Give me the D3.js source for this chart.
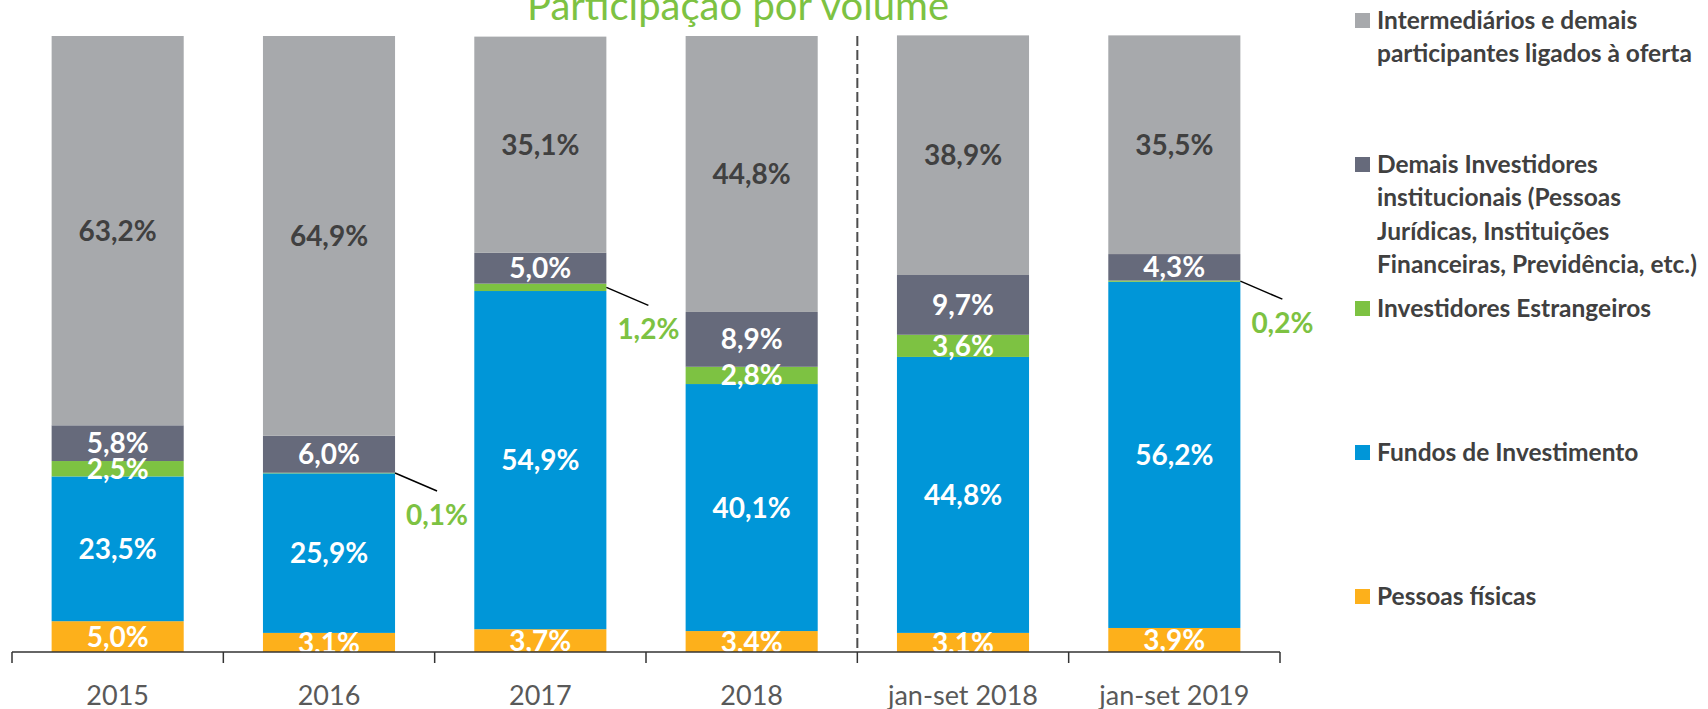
<!DOCTYPE html>
<html lang="pt">
  <head>
    <meta charset="UTF-8" />
    <title>Participação por volume</title>
    <script src="https://d3js.org/d3.v7.min.js"></script>
    <style>
      body { margin: 0; background: #fff; }
      svg { display: block; font-family: Lato, "Open Sans", sans-serif; }
    </style>
  </head>
  <body>
    <svg id="chart" width="1708" height="709"></svg>

    <script>
      const categories = ["2015", "2016", "2017", "2018", "jan-set 2018", "jan-set 2019"];
      const seriesKeys = ["fisicas", "fundos", "estrangeiros", "demais", "intermediarios"];

      const pessoasFisicas = [5.0, 3.1, 3.7, 3.4, 3.1, 3.9];
      const fundosInvestimento = [23.5, 25.9, 54.9, 40.1, 44.8, 56.2];
      const investidoresEstrangeiros = [2.5, 0.1, 1.2, 2.8, 3.6, 0.2];
      const demaisInstitucionais = [5.8, 6.0, 5.0, 8.9, 9.7, 4.3];
      const intermediarios = [63.2, 64.9, 35.1, 44.8, 38.9, 35.5];

      const legendLabels = {
        intermediarios: ["Intermediários e demais", "participantes ligados à oferta"],
        demais: ["Demais Investidores", "institucionais (Pessoas", "Jurídicas, Instituições", "Financeiras, Previdência, etc.)"],
        estrangeiros: ["Investidores Estrangeiros"],
        fundos: ["Fundos de Investimento"],
        fisicas: ["Pessoas físicas"],
      };
      const legendOrder = ["intermediarios", "demais", "estrangeiros", "fundos", "fisicas"];

      const color = {
        fisicas: "#fdb01b",
        fundos: "#0096d8",
        estrangeiros: "#7dc242",
        demais: "#666a7b",
        intermediarios: "#a7a9ac",
      };
      const green = "#7dc242";
      const textDark = "#404040";

      const table = categories.map((c, i) => ({
        cat: c,
        fisicas: pessoasFisicas[i],
        fundos: fundosInvestimento[i],
        estrangeiros: investidoresEstrangeiros[i],
        demais: demaisInstitucionais[i],
        intermediarios: intermediarios[i],
      }));

      const svg = d3.select("#chart");
      const baseY = 652, topY = 36;

      const x = d3.scaleBand()
        .domain(categories)
        .range([12, 1280])
        .paddingInner(0.375)
        .paddingOuter(0.1875);
      const y = d3.scaleLinear().domain([0, 100]).range([baseY, topY]);

      const stacked = d3.stack().keys(seriesKeys)(table);

      // title
      svg.append("text")
        .attr("x", 738)
        .attr("y", 20)
        .attr("text-anchor", "middle")
        .attr("fill", green)
        .style("font-size", "40px")
        .text("Participação por volume");

      // bars
      const layer = svg.append("g")
        .selectAll("g")
        .data(stacked)
        .join("g")
        .attr("fill", (d) => color[d.key]);

      layer.selectAll("rect")
        .data((d) => d)
        .join("rect")
        .attr("x", (d) => x(d.data.cat))
        .attr("width", x.bandwidth())
        .attr("y", (d) => y(d[1]))
        .attr("height", (d) => y(d[0]) - y(d[1]));

      const fmt = (v) => v.toFixed(1).replace(".", ",") + "%";

      // labels inside segments
      stacked.forEach((s) => {
        s.forEach((d) => {
          const v = d.data[s.key];
          if (v < 2) return;
          svg.append("text")
            .attr("x", x(d.data.cat) + x.bandwidth() / 2)
            .attr("y", (y(d[0]) + y(d[1])) / 2)
            .attr("dy", "0.36em")
            .attr("text-anchor", "middle")
            .attr("fill", s.key === "intermediarios" ? textDark : "#fff")
            .style("font-size", "28px")
            .style("font-weight", "bold")
            .text(fmt(v));
        });
      });

      // white under the axis so label parts below the baseline vanish
      svg.append("rect")
        .attr("x", 0).attr("y", baseY)
        .attr("width", 1300).attr("height", 709 - baseY)
        .attr("fill", "#fff");

      // callouts for tiny segments
      stacked.forEach((s) => {
        s.forEach((d) => {
          const v = d.data[s.key];
          if (v >= 2) return;
          const x0 = x(d.data.cat) + x.bandwidth();
          const y0 = (y(d[0]) + y(d[1])) / 2;
          const x1 = x0 + 42, y1 = y0 + 18;
          svg.append("line")
            .attr("x1", x0).attr("y1", y0)
            .attr("x2", x1).attr("y2", y1)
            .attr("stroke", "#000")
            .attr("stroke-width", 1.5);
          svg.append("text")
            .attr("x", x1)
            .attr("y", y1 + 24)
            .attr("dy", "0.36em")
            .attr("text-anchor", "middle")
            .attr("fill", green)
            .style("font-size", "28px")
            .style("font-weight", "bold")
            .text(fmt(v));
        });
      });

      // dashed separator between full years and jan-set
      const gap = (x.step() - x.bandwidth()) / 2;
      const sepX = x("jan-set 2018") - gap;
      svg.append("line")
        .attr("x1", sepX).attr("x2", sepX)
        .attr("y1", topY).attr("y2", baseY)
        .attr("stroke", "#4d4d4d")
        .attr("stroke-width", 2)
        .attr("stroke-dasharray", "10,4");

      // x axis
      const axis = svg.append("g");
      axis.append("line")
        .attr("x1", x.range()[0]).attr("x2", x.range()[1])
        .attr("y1", baseY).attr("y2", baseY)
        .attr("stroke", "#333")
        .attr("stroke-width", 1.5);
      const bounds = categories.map((c) => x(c) - gap).concat([x.range()[1]]);
      axis.selectAll(".tick")
        .data(bounds)
        .join("line")
        .attr("x1", (d) => d).attr("x2", (d) => d)
        .attr("y1", baseY).attr("y2", baseY + 11)
        .attr("stroke", "#333")
        .attr("stroke-width", 1.5);
      axis.selectAll(".lbl")
        .data(categories)
        .join("text")
        .attr("x", (d) => x(d) + x.bandwidth() / 2)
        .attr("y", 705)
        .attr("text-anchor", "middle")
        .attr("fill", "#595959")
        .style("font-size", "27px")
        .text((d) => d);

      // legend
      const legend = svg.append("g").attr("transform", "translate(1355,0)");
      legendOrder.forEach((k, i) => {
        const cy = 20.5 + i * 144;
        legend.append("rect")
          .attr("x", 0).attr("y", cy - 7.5)
          .attr("width", 15).attr("height", 15)
          .attr("fill", color[k]);
        const t = legend.append("text")
          .attr("fill", textDark)
          .style("font-size", "24.5px")
          .style("font-weight", "bold");
        legendLabels[k].forEach((line, j) => {
          t.append("tspan")
            .attr("x", 22)
            .attr("y", cy + 8 + j * 33.5)
            .text(line);
        });
      });
    </script>
  </body>
</html>
